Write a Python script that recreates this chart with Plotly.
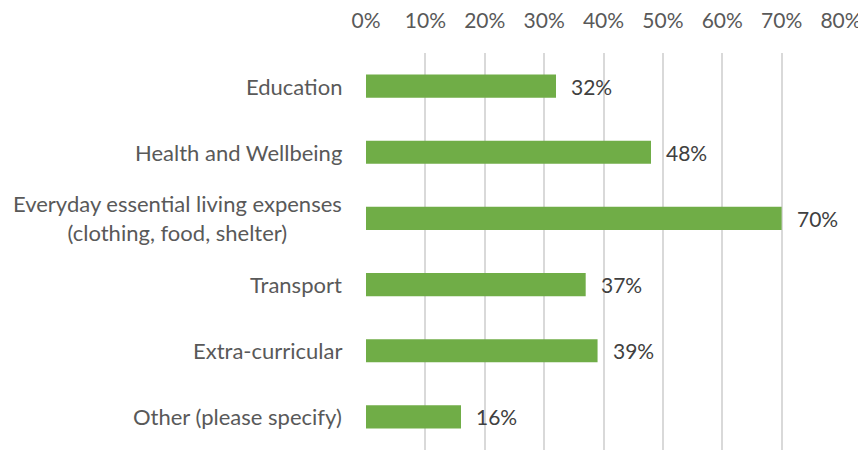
import plotly.graph_objects as go

categories = [
    "Education",
    "Health and Wellbeing",
    "Everyday essential living expenses<br>(clothing, food, shelter)",
    "Transport",
    "Extra-curricular",
    "Other (please specify)",
]
values = [32, 48, 70, 37, 39, 16]
tick_vals = [0, 10, 20, 30, 40, 50, 60, 70, 80]
tick_text = [f"{v}%" for v in tick_vals]

FONT = "Lato"
fig = go.Figure()
fig.add_trace(go.Bar(
    x=values, y=categories, orientation="h",
    marker=dict(color="#70AD47", line=dict(width=0)),
    width=0.35, hoverinfo="skip",
))

annotations = []
for c, v in zip(categories, values):
    annotations.append(dict(
        x=v, y=c, xref="x", yref="y", text=f"{v}%", showarrow=False,
        xanchor="left", yanchor="middle", xshift=13,
        font=dict(family=FONT, size=21, color="#404040"),
    ))
    annotations.append(dict(
        x=0, y=c, xref="x", yref="y", text=c, showarrow=False,
        xanchor="right", yanchor="middle", xshift=-22, align="center",
        font=dict(family=FONT, size=22, color="#595959"),
    ))
fig.update_layout(annotations=annotations)

# page body has an 8px default margin, so the figure is sized to fit the window
fig.update_layout(
    width=858, height=442,
    margin=dict(l=358, r=25, t=45, b=0, autoexpand=False),
    paper_bgcolor="white", plot_bgcolor="white",
    showlegend=False,
    font=dict(family=FONT, size=21, color="#595959"),
    xaxis=dict(
        side="top", range=[0, 80], tickvals=tick_vals, ticktext=tick_text,
        showgrid=True, gridcolor="#D9D9D9", gridwidth=1.5,
        zeroline=False, showline=False, ticks="", ticklabelstandoff=20,
        automargin=False,
        tickfont=dict(family=FONT, size=21, color="#595959"),
    ),
    yaxis=dict(
        autorange="reversed", showticklabels=False, showgrid=False,
        zeroline=False, showline=False, ticks="", automargin=False,
    ),
)

fig.write_html("out.html")
